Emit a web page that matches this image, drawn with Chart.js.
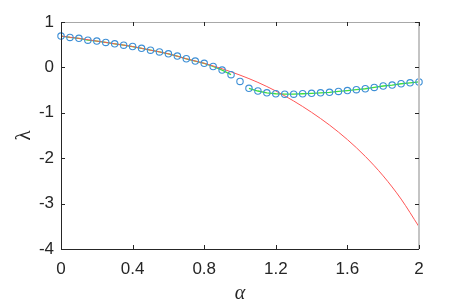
<!DOCTYPE html>
<html>
<head>
<meta charset="utf-8">
<script src="https://cdn.jsdelivr.net/npm/chart.js@4"></script>
<style>
html,body{margin:0;padding:0;background:#fff;}
#wrap{width:463px;height:307px;}
</style>
</head>
<body>
<div id="wrap"><canvas id="c" width="463" height="307"></canvas></div>
<script>
// alpha grid of the sampled (circle) branch
const alphaPts = [0,0.05,0.1,0.15,0.2,0.25,0.3,0.35,0.4,0.45,0.5,0.55,0.6,0.65,0.7,0.75,0.8,0.85,0.9,0.95,1.0,1.05,1.1,1.15,1.2,1.25,1.3,1.35,1.4,1.45,1.5,1.55,1.6,1.65,1.7,1.75,1.8,1.85,1.9,1.95,2.0];
// lambda read at the circles
const lambdaPts = [0.69,0.66,0.64,0.60,0.58,0.55,0.52,0.49,0.46,0.42,0.38,0.34,0.30,0.25,0.19,0.14,0.09,0.02,-0.06,-0.16,-0.31,-0.46,-0.52,-0.56,-0.58,-0.59,-0.59,-0.58,-0.57,-0.56,-0.55,-0.53,-0.51,-0.49,-0.47,-0.44,-0.41,-0.39,-0.36,-0.34,-0.32];
// green line (same branch, with a break at alpha = 1.0)
const lambdaGreen = [0.69,0.66,0.64,0.60,0.58,0.55,0.52,0.49,0.46,0.42,0.38,0.34,0.30,0.25,0.19,0.14,0.09,0.02,-0.06,-0.16,null,-0.46,-0.52,-0.56,-0.58,-0.59,-0.59,-0.58,-0.57,-0.56,-0.55,-0.53,-0.51,-0.49,-0.47,-0.44,-0.41,-0.39,-0.36,-0.34,-0.32];
// red curve
const alphaRed = [0,0.1,0.2,0.3,0.4,0.5,0.6,0.7,0.8,0.9,1.0,1.1,1.2,1.3,1.4,1.5,1.6,1.7,1.8,1.9,2.0];
const lambdaRed = [0.69,0.64,0.58,0.52,0.46,0.38,0.30,0.19,0.09,-0.03,-0.17,-0.33,-0.52,-0.74,-0.99,-1.27,-1.59,-1.96,-2.39,-2.90,-3.51];
// tick labels
const xTicks = [0,0.4,0.8,1.2,1.6,2];
const yTicks = [1,0,-1,-2,-3,-4];
const xTickLabels = ['0','0.4','0.8','1.2','1.6','2'];
const yTickLabels = ['1','0','-1','-2','-3','-4'];

const toXY = (xs, ys) => xs.map((x,i)=>({x:x,y:ys[i]}));

const boxPlugin = {
  id:'box',
  afterDatasetsDraw(chart){
    const {ctx, chartArea:a, scales:{x,y}} = chart;
    ctx.save();
    ctx.strokeStyle = '#a8a8a8'; ctx.lineWidth = 1;
    ctx.beginPath(); ctx.moveTo(a.left, a.top+0.5); ctx.lineTo(a.right, a.top+0.5); ctx.stroke();
    ctx.strokeStyle = '#c4c4c4'; ctx.lineWidth = 2;
    ctx.beginPath(); ctx.moveTo(a.right, a.top); ctx.lineTo(a.right, a.bottom); ctx.stroke();
    ctx.strokeStyle = '#262626'; ctx.lineWidth = 1;
    ctx.beginPath(); ctx.moveTo(a.left+0.5, a.top); ctx.lineTo(a.left+0.5, a.bottom+0.5); ctx.lineTo(a.right, a.bottom+0.5); ctx.stroke();
    const L = 4;
    xTicks.forEach(v=>{
      const px = Math.round(x.getPixelForValue(v))+0.5;
      ctx.beginPath(); ctx.moveTo(px, a.bottom); ctx.lineTo(px, a.bottom-L); ctx.stroke();
      ctx.beginPath(); ctx.moveTo(px, a.top); ctx.lineTo(px, a.top+L); ctx.stroke();
    });
    yTicks.forEach(v=>{
      const py = Math.round(y.getPixelForValue(v))+0.5;
      ctx.beginPath(); ctx.moveTo(a.left, py); ctx.lineTo(a.left+L, py); ctx.stroke();
      ctx.beginPath(); ctx.moveTo(a.right, py); ctx.lineTo(a.right-L, py); ctx.stroke();
    });
    ctx.restore();
  }
};

new Chart(document.getElementById('c'), {
  type:'scatter',
  data:{
    datasets:[
      {data: toXY(alphaPts, lambdaPts), showLine:false, pointRadius:3.2, pointBorderWidth:1.1,
       pointBorderColor:'#3d8fd6', pointBackgroundColor:'rgba(0,0,0,0)', clip:false},
      {data: toXY(alphaRed, lambdaRed), showLine:true, pointRadius:0, borderColor:'#ff5555', borderWidth:1, cubicInterpolationMode:'monotone'},
      {data: toXY(alphaPts, lambdaGreen), showLine:true, spanGaps:false, pointRadius:0, borderColor:'#3ee03e', borderWidth:1.3}
    ]
  },
  options:{
    responsive:false, animation:false, devicePixelRatio:1,
    layout:{padding:{left:0, top:22, right:44, bottom:0}},
    plugins:{legend:{display:false}, tooltip:{enabled:false}},
    scales:{
      x:{type:'linear', min:0, max:2,
        afterFit(s){ s.height = 58; },
        afterBuildTicks(s){ s.ticks = xTicks.map(v=>({value:v})); },
        grid:{display:false, drawTicks:false},
        border:{display:false},
        ticks:{padding:10, color:'#262626', font:{family:'Liberation Sans', size:17},
          callback:(v)=>xTickLabels[xTicks.indexOf(v)], maxRotation:0, autoSkip:false},
        title:{display:true, text:'α', color:'#262626', font:{family:'Liberation Serif', size:20, style:'italic', lineHeight:1}, padding:{top:0,bottom:3}}
      },
      y:{type:'linear', min:-4, max:1,
        afterFit(s){ s.width = 61; },
        afterBuildTicks(s){ s.ticks = yTicks.map(v=>({value:v})); },
        grid:{display:false, drawTicks:false},
        border:{display:false},
        ticks:{padding:7, color:'#262626', font:{family:'Liberation Sans', size:17},
          callback:(v)=>yTickLabels[yTicks.indexOf(v)], autoSkip:false},
        title:{display:true, text:'λ', color:'#262626', font:{family:'Liberation Serif', size:21, lineHeight:1.2}, padding:{top:12,bottom:0}}
      }
    }
  },
  plugins:[boxPlugin]
});
</script>
</body>
</html>
